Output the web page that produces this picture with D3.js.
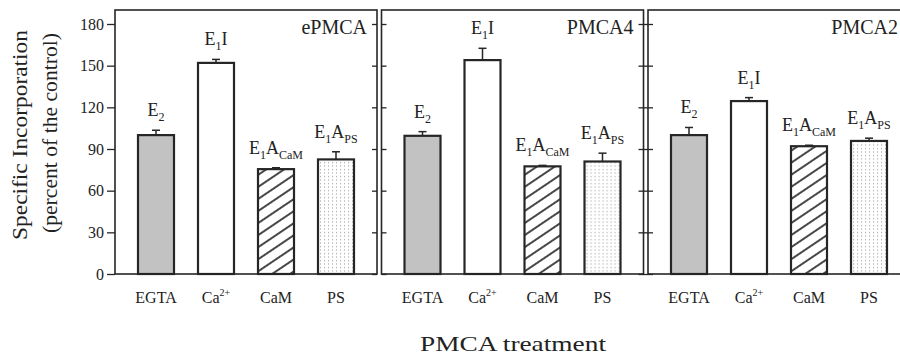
<!DOCTYPE html>
<html>
<head>
<meta charset="utf-8">
<script src="https://cdn.jsdelivr.net/npm/d3@7"></script>
<style>
  html, body { margin: 0; padding: 0; background: #fff; }
  svg { display: block; }
  text { font-family: "Liberation Serif", "Times New Roman", serif; fill: #222; }
</style>
</head>
<body>
<svg id="chart" width="900" height="362"></svg>
<script>
// ---------------- data ----------------
const categories = ["EGTA", "Ca2+", "CaM", "PS"];
const panelNames = ["ePMCA", "PMCA4", "PMCA2"];
const ePMCAValues = [100, 152, 75.5, 82.5];
const ePMCAErrors = [3.5, 2.5, 1, 5.5];
const pmca4Values = [99.5, 154, 77.5, 81];
const pmca4Errors = [3, 8.5, 0.7, 6];
const pmca2Values = [100, 124.5, 92, 95.8];
const pmca2Errors = [5.5, 2.5, 0.7, 2];
const yTicks = [0, 30, 60, 90, 120, 150, 180];
// state labels above the bars: [text, "sub"?]
const stateLabels = [
  [["E"], ["2", "sub"]],
  [["E"], ["1", "sub"], ["I"]],
  [["E"], ["1", "sub"], ["A"], ["CaM", "sub"]],
  [["E"], ["1", "sub"], ["A"], ["PS", "sub"]]
];
const yTitle = ["Specific Incorporation", "(percent of the control)"];
const xTitle = "PMCA treatment";

const panelValues = [ePMCAValues, pmca4Values, pmca2Values];
const panelErrors = [ePMCAErrors, pmca4Errors, pmca2Errors];

// ---------------- layout ----------------
const svg = d3.select("#chart");
const frameTop = 10, baseY = 274;
const firstLeft = 115, panelW = 262, panelStep = 266.5;
const y = d3.scaleLinear().domain([0, 180]).range([baseY, 24]);
const x = d3.scaleBand().domain(categories).range([11, 251]).paddingInner(0.4).paddingOuter(0.2);
const stroke = "#262626";

const defs = svg.append("defs");
const hatch = defs.append("pattern").attr("id", "hatch").attr("patternUnits", "userSpaceOnUse")
  .attr("width", 10).attr("height", 10).attr("patternTransform", "rotate(-34)");
hatch.append("rect").attr("width", 10).attr("height", 10).attr("fill", "#fff");
hatch.append("line").attr("x1", -1).attr("x2", 11).attr("y1", 5).attr("y2", 5)
  .attr("stroke", "#1a1a1a").attr("stroke-width", 1.6);
const dots = defs.append("pattern").attr("id", "dots").attr("patternUnits", "userSpaceOnUse")
  .attr("width", 4).attr("height", 3.5);
dots.append("rect").attr("width", 4).attr("height", 3.5).attr("fill", "#fff");
dots.append("rect").attr("x", 1).attr("y", 1).attr("width", 1.1).attr("height", 1.1).attr("fill", "#a0a0a0");

const fills = ["#c2c2c2", "#ffffff", "url(#hatch)", "url(#dots)"];

svg.append("clipPath").attr("id", "clipAll").append("rect").attr("width", 900).attr("height", 362);
const root = svg.append("g").attr("clip-path", "url(#clipAll)");

panelNames.forEach((name, pi) => {
  const left = firstLeft + pi * panelStep;
  const g = root.append("g").attr("transform", `translate(${left},0)`);
  const vals = panelValues[pi], errs = panelErrors[pi];

  // bars
  g.selectAll("rect.bar").data(categories).join("rect")
    .attr("class", "bar")
    .attr("x", d => x(d))
    .attr("width", x.bandwidth())
    .attr("y", (d, i) => y(vals[i]))
    .attr("height", (d, i) => baseY - y(vals[i]))
    .attr("fill", (d, i) => fills[i])
    .attr("stroke", stroke).attr("stroke-width", 2.2);

  // error bars
  categories.forEach((c, i) => {
    const cx = x(c) + x.bandwidth() / 2;
    g.append("line").attr("x1", cx).attr("x2", cx)
      .attr("y1", y(vals[i])).attr("y2", y(vals[i] + errs[i]))
      .attr("stroke", stroke).attr("stroke-width", 1.5);
    g.append("line").attr("x1", cx - 4).attr("x2", cx + 4)
      .attr("y1", y(vals[i] + errs[i])).attr("y2", y(vals[i] + errs[i]))
      .attr("stroke", stroke).attr("stroke-width", 1.5);
    // state label
    const t = g.append("text").attr("x", cx).attr("y", y(vals[i] + errs[i]) - 14)
      .attr("text-anchor", "middle").attr("font-size", 18);
    let shifted = false;
    stateLabels[i].forEach(seg => {
      const isSub = seg[1] === "sub";
      const ts = t.append("tspan").text(seg[0]);
      if (isSub && !shifted) { ts.attr("dy", 5).attr("font-size", 12); shifted = true; }
      else if (isSub) { ts.attr("font-size", 12); }
      else if (!isSub && shifted) { ts.attr("dy", -5); shifted = false; }
    });
  });

  // frame
  g.append("rect").attr("x", 0).attr("y", frameTop).attr("width", panelW).attr("height", baseY - frameTop)
    .attr("fill", "none").attr("stroke", stroke).attr("stroke-width", 1.6);

  // ticks
  const leftAxis = pi === 0
    ? d3.axisLeft(y).tickValues(yTicks).tickSize(8).tickPadding(3)
    : d3.axisRight(y).tickValues(yTicks).tickSize(5).tickFormat("");
  const la = g.append("g").call(leftAxis);
  la.select(".domain").remove();
  la.selectAll("line").attr("stroke", stroke).attr("stroke-width", 1.3);
  la.selectAll("text").attr("font-size", 16).attr("fill", "#222")
    .attr("font-family", "Liberation Serif, serif");
  if (pi === 2) {
    const la2 = g.append("g").call(d3.axisLeft(y).tickValues(yTicks).tickSize(5).tickFormat(""));
    la2.select(".domain").remove();
    la2.selectAll("line").attr("stroke", stroke).attr("stroke-width", 1.3);
  }
  const ra = g.append("g").attr("transform", `translate(${panelW},0)`)
    .call(d3.axisLeft(y).tickValues(yTicks).tickSize(5).tickFormat(""));
  ra.select(".domain").remove();
  ra.selectAll("line").attr("stroke", stroke).attr("stroke-width", 1.3);

  // category labels
  categories.forEach(c => {
    const cx = x(c) + x.bandwidth() / 2;
    const t = g.append("text").attr("x", cx).attr("y", 303).attr("text-anchor", "middle").attr("font-size", 16);
    if (c === "Ca2+") {
      t.append("tspan").text("Ca");
      t.append("tspan").text("2+").attr("dy", -7).attr("font-size", 10);
    } else {
      t.text(c);
    }
  });

  // panel title
  g.append("text").attr("x", Math.min(panelW - 10, 898 - left)).attr("y", 34)
    .attr("text-anchor", "end").attr("font-size", 20).text(name);
});

// axis titles
svg.append("text").attr("transform", "translate(27,135) rotate(-90)")
  .attr("text-anchor", "middle").attr("font-size", 20)
  .attr("textLength", 210).attr("lengthAdjust", "spacingAndGlyphs").text(yTitle[0]);
svg.append("text").attr("transform", "translate(57,133) rotate(-90)")
  .attr("text-anchor", "middle").attr("font-size", 20)
  .attr("textLength", 200).attr("lengthAdjust", "spacingAndGlyphs").text(yTitle[1]);
svg.append("text").attr("x", 513).attr("y", 351)
  .attr("text-anchor", "middle").attr("font-size", 21)
  .attr("textLength", 186).attr("lengthAdjust", "spacingAndGlyphs").text(xTitle);
</script>
</body>
</html>
